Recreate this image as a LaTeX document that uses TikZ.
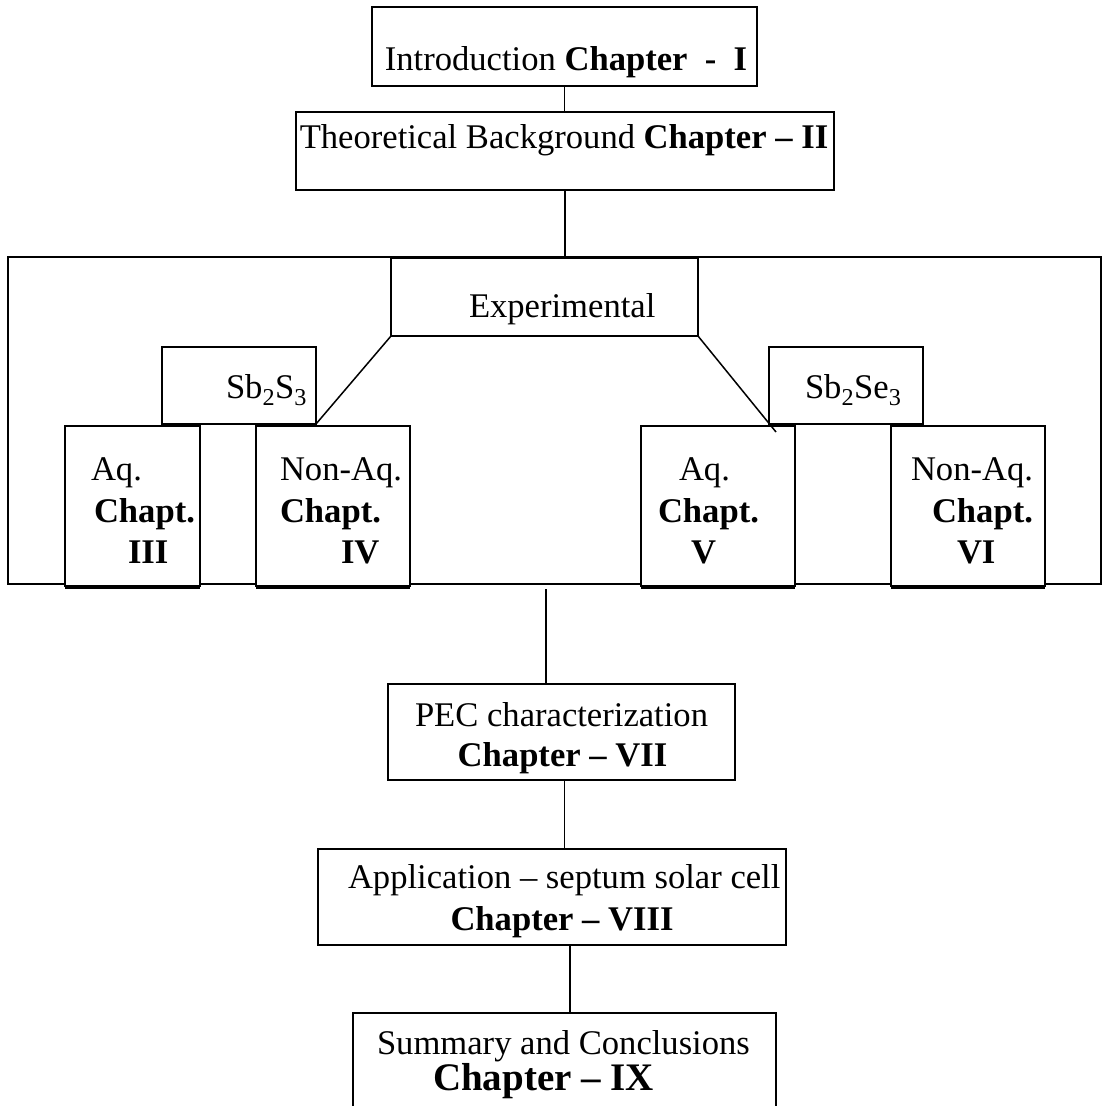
\documentclass[tikz,border=0pt]{standalone}
\usepackage{fontspec}
\setmainfont{Liberation Serif}
\begin{document}
\begin{tikzpicture}[x=1pt,y=-1pt,
  box/.style={draw, line width=1.8pt, rectangle, outer sep=0pt, inner sep=0pt, anchor=north west, fill=white},
  chapbox/.style={box, line width=2.4pt},
  txt/.style={inner sep=0pt, outer sep=0pt, font=\fontsize{34.6}{40}\selectfont, anchor=base},
  txtl/.style={txt, anchor=base west},
  conn/.style={line width=1.5pt}]
\useasboundingbox (0,0) rectangle (1102,1106);
% frame
\node[box, line width=1.5pt, fill=none, minimum width=1093pt, minimum height=327pt] (frame) at (8,257) {};
% boxes
\node[box, minimum width=385pt, minimum height=79pt] (intro) at (372,7) {};
\node[box, minimum width=538pt, minimum height=78pt] (theo) at (296,112) {};
\node[box, minimum width=307pt, minimum height=78pt] (exp) at (391,258) {};
\node[box, minimum width=154pt, minimum height=77pt] (sbs) at (162,347) {};
\node[box, minimum width=154pt, minimum height=77pt] (sbse) at (769,347) {};
\node[chapbox, minimum width=135pt, minimum height=160pt] (c3) at (65,426) {};
\node[chapbox, minimum width=154pt, minimum height=160pt] (c4) at (256,426) {};
\node[chapbox, minimum width=154pt, minimum height=160pt] (c5) at (641,426) {};
\node[chapbox, minimum width=154pt, minimum height=160pt] (c6) at (891,426) {};
\foreach \n in {c3,c4,c5,c6}
  \draw[line width=3pt] ([yshift=-1.5pt]\n.south west) -- ([yshift=-1.5pt]\n.south east);
\node[box, minimum width=347pt, minimum height=96pt] (pec) at (388,684) {};
\node[box, minimum width=468pt, minimum height=96pt] (app) at (318,849) {};
\node[box, minimum width=423pt, minimum height=110pt] (sum) at (353,1013) {};
% texts
\node[txt] (tintro) at (566,70) {Introduction \textbf{Chapter\ \ -\ \ I}};
\node[txt] (ttheo) at (564,148) {Theoretical Background \textbf{Chapter -- II}};
\node[txtl] (texp) at (469,317) {Experimental};
\node[txtl] (tsbs) at (226,398) {Sb\textsubscript{2}S\textsubscript{3}};
\node[txtl] (tsbse) at (805,398) {Sb\textsubscript{2}Se\textsubscript{3}};
\node[txtl] (c3a) at (91,480) {Aq.};
\node[txtl] (c3b) at (94,522) {\textbf{Chapt.}};
\node[txtl] (c3c) at (128,563) {\textbf{III}};
\node[txtl] (c4a) at (280,480) {Non-Aq.};
\node[txtl] (c4b) at (280,522) {\textbf{Chapt.}};
\node[txtl] (c4c) at (341,563) {\textbf{IV}};
\node[txtl] (c5a) at (679,480) {Aq.};
\node[txtl] (c5b) at (658,522) {\textbf{Chapt.}};
\node[txtl] (c5c) at (691,563) {\textbf{V}};
\node[txtl] (c6a) at (911,480) {Non-Aq.};
\node[txtl] (c6b) at (932,522) {\textbf{Chapt.}};
\node[txtl] (c6c) at (957,563) {\textbf{VI}};
\node[txt] (tpec1) at (561.5,726) {PEC characterization};
\node[txt] (tpec2) at (562.5,766) {\textbf{Chapter -- VII}};
\node[txtl] (tapp1) at (348,888) {Application -- septum solar cell};
\node[txt] (tapp2) at (562,930) {\textbf{Chapter -- VIII}};
\node[txtl] (tsum1) at (377,1054) {Summary and Conclusions};
\node[txt, font=\fontsize{39}{45}\selectfont] (tsum2) at (543.5,1090) {\textbf{Chapter -- IX}};
% connectors
\draw[conn] (intro.south) -- (intro.south |- theo.north);
\draw[conn] (theo.south) -- (theo.south |- frame.north);
\draw[conn] (exp.south west) -- (sbs.south east);
\coordinate (dend) at (776,432);
\draw[conn] (exp.south east) -- (dend);
\coordinate (fb) at (546,589);
\draw[conn] (fb) -- (fb |- pec.north);
\draw[conn] ([xshift=3pt]pec.south) -- ([xshift=3pt]pec.south |- app.north);
\draw[conn] ([xshift=18pt]app.south) -- ([xshift=18pt]app.south |- sum.north);
\end{tikzpicture}
\end{document}
